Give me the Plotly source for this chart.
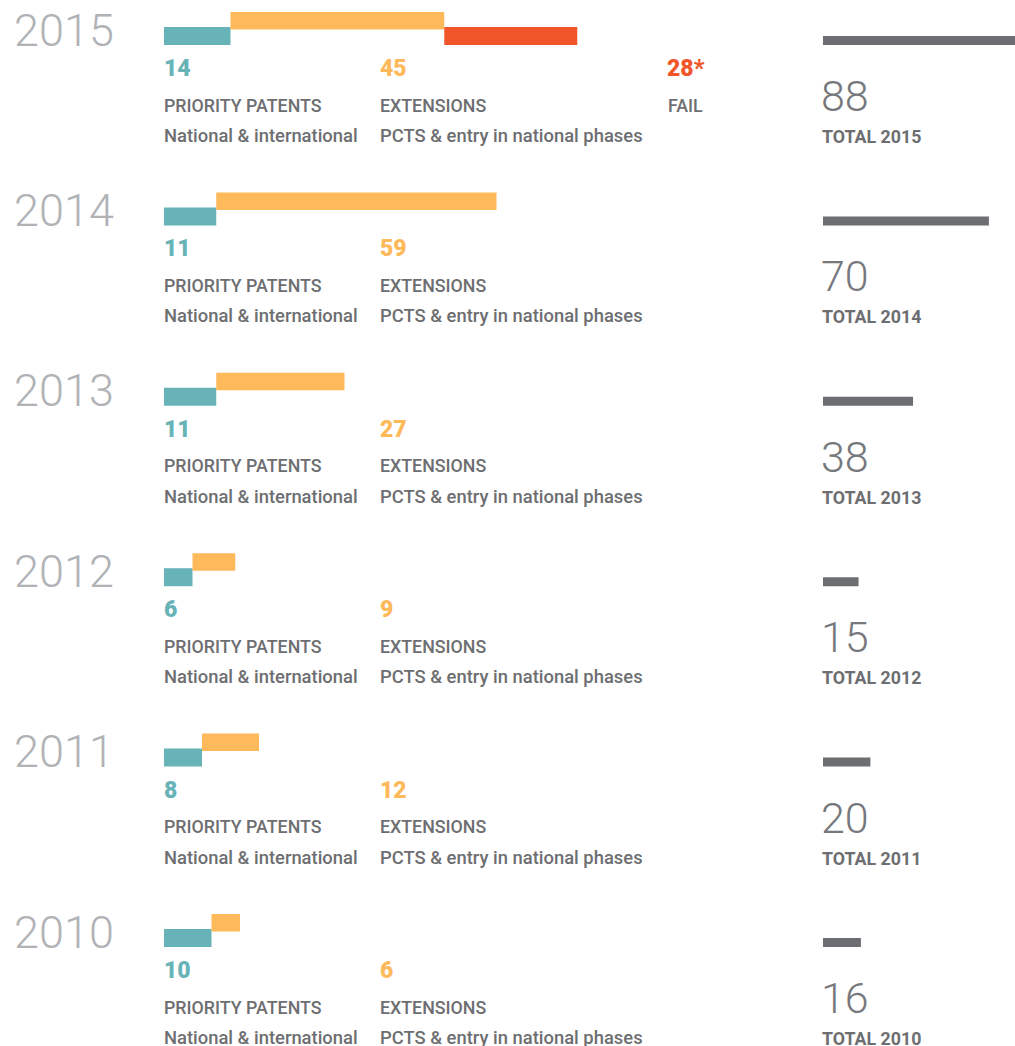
import plotly.graph_objects as go

# ---------------- data ----------------
years = [2015, 2014, 2013, 2012, 2011, 2010]
priority = [14, 11, 11, 6, 8, 10]
extensions = [45, 59, 27, 9, 12, 6]
fail_years = [2015]
fail = [28]
fail_labels = ["28*"]
totals = [88, 70, 38, 15, 20, 16]

lbl_priority = "PRIORITY PATENTS"
sub_priority = "National & international"
lbl_ext = "EXTENSIONS"
sub_ext = "PCTS & entry in national phases"
lbl_fail = "FAIL"
lbl_total = "TOTAL {}"

# ---------------- style ----------------
W, H = 1015, 1046
ROW = 180.4          # px between rows
TOP = 36             # px of first row centre
TEAL = "#67B3B8"
ORANGE = "#FDB95A"
RED = "#F0562A"
DARK = "#6D6E71"
YEARGRAY = "#B1B2B6"
TOTALGRAY = "#77787C"
FONT = "Roboto"

px = lambda p: p / ROW  # px -> y units

fig = go.Figure()

fail_base = [priority[years.index(y)] + extensions[years.index(y)] for y in fail_years]

fig.add_trace(go.Bar(orientation="h", y=years, x=priority, base=0,
                     width=px(18), offset=-px(9), marker=dict(color=TEAL, line_width=0),
                     xaxis="x", yaxis="y"))
fig.add_trace(go.Bar(orientation="h", y=years, x=extensions, base=priority,
                     width=px(17.5), offset=px(6.5), marker=dict(color=ORANGE, line_width=0),
                     xaxis="x", yaxis="y"))
fig.add_trace(go.Bar(orientation="h", y=fail_years, x=fail, base=fail_base,
                     width=px(18), offset=-px(9), marker=dict(color=RED, line_width=0),
                     xaxis="x", yaxis="y"))
fig.add_trace(go.Bar(orientation="h", y=years, x=totals, base=0,
                     width=px(9), offset=-px(9), marker=dict(color=DARK, line_width=0),
                     xaxis="x2", yaxis="y"))

ann = []


def add(text, xpx, year, shift, size, color, weight=400):
    ann.append(dict(text=text, xref="paper", x=xpx / W, xanchor="left",
                    yref="y", y=year, yanchor="middle", yshift=shift,
                    showarrow=False, borderpad=0,
                    font=dict(family=FONT, size=size, color=color, weight=weight)))


for i, y in enumerate(years):
    add(str(y), 13, y, 6, 45, YEARGRAY, 300)
    add(str(priority[i]), 163, y, -32.5, 23, TEAL, 900)
    add(lbl_priority, 163, y, -69, 17.8, DARK, 500)
    add(sub_priority, 163, y, -99.5, 18.4, DARK, 500)
    add(str(extensions[i]), 379, y, -32.5, 23, ORANGE, 900)
    add(lbl_ext, 379, y, -69, 17.8, DARK, 500)
    add(sub_ext, 379, y, -99.5, 18.4, DARK, 500)
    add(str(totals[i]), 820, y, -60, 43, TOTALGRAY, 300)
    add(lbl_total.format(y), 821, y, -100.5, 17.8, DARK, 700)

for j, y in enumerate(fail_years):
    add(fail_labels[j], 666, y, -32.5, 23, RED, 900)
    add(lbl_fail, 667, y, -69, 17.8, DARK, 500)

fig.update_layout(
    width=W, height=H, margin=dict(l=0, r=0, t=0, b=0),
    paper_bgcolor="white", plot_bgcolor="white",
    barmode="overlay", showlegend=False, annotations=ann,
    xaxis=dict(domain=[164 / W, 800 / W], range=[0, (800 - 164) / 4.75],
               visible=False, anchor="y", fixedrange=True),
    xaxis2=dict(domain=[823 / W, 1], range=[0, (W - 823) / 2.37],
                visible=False, anchor="y", fixedrange=True),
    yaxis=dict(domain=[0, 1], range=[2015 - (H - TOP) / ROW, 2015 + TOP / ROW],
               visible=False, fixedrange=True),
)

fig.write_html("out.html")
